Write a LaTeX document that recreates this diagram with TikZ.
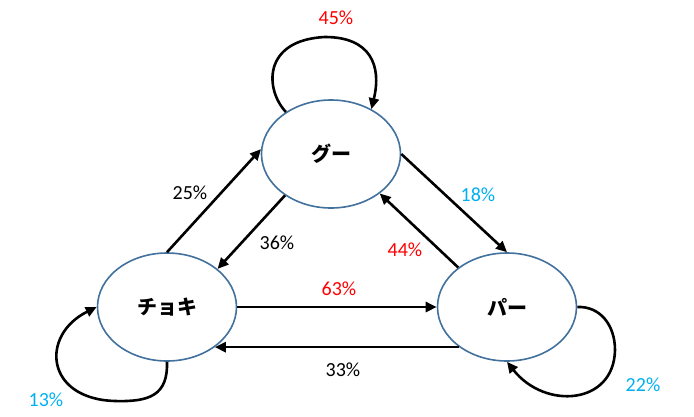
\documentclass[tikz,border=0pt]{standalone}
\usepackage{fontspec}
\setmainfont{Carlito}
\newfontfamily\jp{Noto Sans CJK JP}
\usetikzlibrary{shapes.geometric,arrows.meta}
\definecolor{ringblue}{HTML}{41719C}
\definecolor{pctred}{HTML}{FF0000}
\definecolor{pctcyan}{HTML}{00B0F0}
\tikzset{
  state/.style={ellipse,draw=ringblue,line width=1.6pt,fill=white,minimum width=139pt,minimum height=108pt,inner sep=0pt,font=\jp\bfseries\fontsize{20}{20}\selectfont},
  edge/.style={line width=2.6pt,-{Triangle[length=11pt,width=10pt]}},
  pct/.style={font=\fontsize{20}{22}\selectfont,inner sep=0pt}
}
\begin{document}
\begin{tikzpicture}[x=1pt,y=-1pt]
\useasboundingbox (0,0) rectangle (694,416);
\node[state] (gu) at (331,154) {グー};
\node[state] (ch) at (167,307) {チョキ};
\node[state] (pa) at (507,307) {パー};
% straight arrows
\draw[edge] (ch.north) -- (gu.176);
\draw[edge] (gu.222) -- (ch.37);
\draw[edge] (gu.east) -- (pa.north);
\draw[edge] (pa.141) -- (gu.321);
\draw[edge] (ch.east) -- (pa.west);
\draw[edge] (pa.220) -- (ch.320);
% self loops
\coordinate (gtop) at (325,37);
\draw[edge] (gu.137) .. controls (265,90) and (262,40) .. (gtop) .. controls (370,37) and (382,65) .. (gu.48);
\coordinate (cbot) at (115,401);
\draw[edge] (ch.south) .. controls (168,395) and (150,402) .. (cbot) .. controls (45,399) and (40,335) .. (ch.west);
\coordinate (pside) at (615,350);
\draw[edge] (pa.east) .. controls (600,306) and (615,325) .. (pside) .. controls (614,405) and (545,410) .. (pa.south);
% labels
\node[pct,text=pctred] (l45) at (336,18) {45\%};
\node[pct] (l25) at (190,193) {25\%};
\node[pct] (l36) at (277,243) {36\%};
\node[pct,text=pctcyan] (l18) at (478,195) {18\%};
\node[pct,text=pctred] (l44) at (405,250) {44\%};
\node[pct,text=pctred] (l63) at (339,289) {63\%};
\node[pct] (l33) at (343,370) {33\%};
\node[pct,text=pctcyan] (l13) at (46,400) {13\%};
\node[pct,text=pctcyan] (l22) at (643,385) {22\%};
\end{tikzpicture}
\end{document}
